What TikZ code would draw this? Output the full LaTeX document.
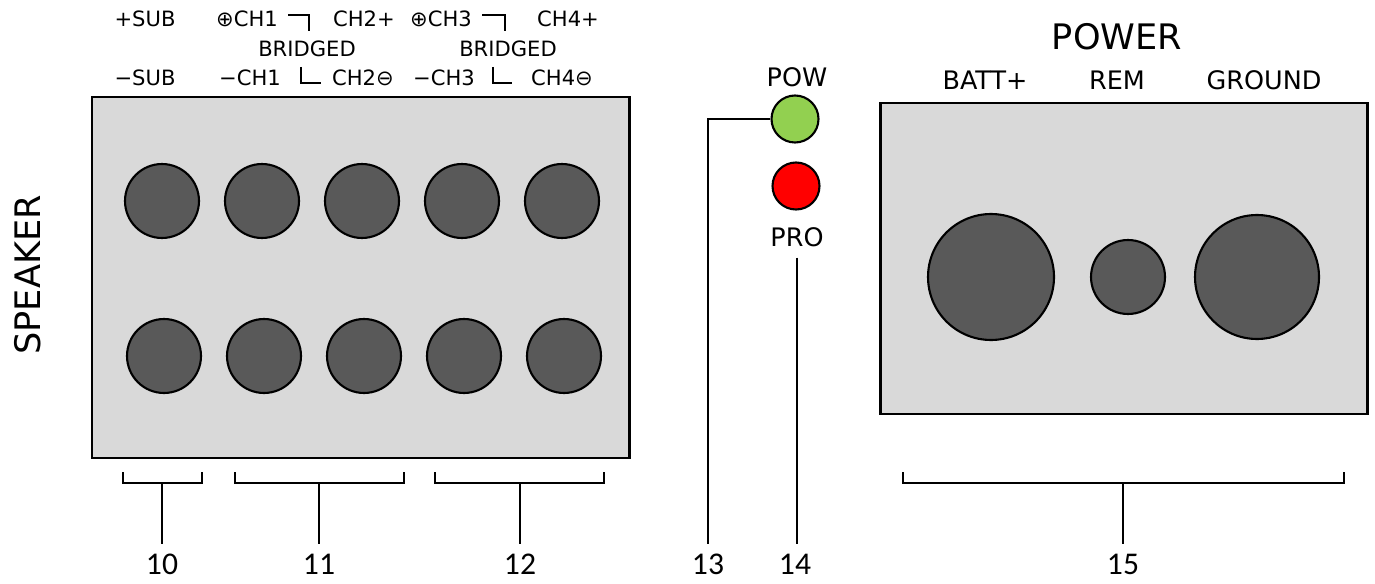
\documentclass[tikz,border=0pt]{standalone}
\usepackage{fontspec}
\setmainfont{DejaVu Sans}
\newfontfamily\numfont{Carlito}
\usetikzlibrary{positioning}
\definecolor{panelgray}{HTML}{D9D9D9}
\definecolor{termgray}{HTML}{595959}
\definecolor{powgreen}{HTML}{92D050}
\definecolor{prored}{HTML}{FF0000}

\begin{document}
\begin{tikzpicture}[x=0.02cm,y=-0.02cm,
        panel/.style={draw=black,line width=1.7pt,fill=panelgray},
        term/.style={circle,draw=black,line width=1.2pt,fill=termgray,inner sep=0pt},
        led/.style={circle,draw=black,line width=1.2pt,inner sep=0pt,minimum size=0.94cm},
        lbl/.style={font=\fontsize{12}{12}\selectfont,inner sep=0pt},
        biglbl/.style={font=\fontsize{20}{20}\selectfont,inner sep=0pt},
        midlbl/.style={font=\fontsize{14.5}{15}\selectfont,inner sep=0pt},
        num/.style={font=\numfont\fontsize{18}{18}\selectfont,inner sep=0pt},
        lead/.style={line width=0.9pt}]
    \fill[white] (0,0) rectangle (1375,584);
    \useasboundingbox (0,0) rectangle (1375,584);

    % speaker panel
    \node[biglbl,rotate=90] (speaker) at (28,275) {SPEAKER};
    \draw[panel] (92,97) rectangle (629,458);
    \foreach \i in {0,...,4} {
        \node[term,minimum size=1.48cm] (top\i) at (162+100*\i,201) {};
        \node[term,minimum size=1.48cm] (bot\i) at (164+100*\i,356) {};
    }

    % speaker labels
    \node[lbl] (psub) at (145,19) {+SUB};
    \node[lbl] (pch1) at (247,19) {⊕CH1};
    \node[lbl] (pch2) at (364,19) {CH2+};
    \node[lbl] (pch3) at (441,19) {⊕CH3};
    \node[lbl] (pch4) at (568,19) {CH4+};
    \node[lbl] (brida) at (307,49) {BRIDGED};
    \node[lbl] (bridb) at (508,49) {BRIDGED};
    \node[lbl] (msub) at (145,78) {−SUB};
    \node[lbl] (mch1) at (250,78) {−CH1};
    \node[lbl] (mch2) at (363,78) {CH2⊖};
    \node[lbl] (mch3) at (444,78) {−CH3};
    \node[lbl] (mch4) at (562,78) {CH4⊖};
    \draw[lead] (288,15) -- (309,15) -- (309,31);
    \draw[lead] (301,67) -- (301,83) -- (321,83);
    \draw[lead] (482,15) -- (505,15) -- (505,31);
    \draw[lead] (493,67) -- (493,83) -- (512,83);

    % leds
    \node[led,fill=powgreen] (pow) at (795,119) {};
    \node[led,fill=prored] (pro) at (796,186) {};
    \node[midlbl] (powlbl) at (797,77) {POW};
    \node[midlbl] (prolbl) at (797,237) {PRO};

    % power panel
    \node[biglbl] (power) at (1117,37) {POWER};
    \node[midlbl] (battlbl) at (985,80) {BATT+};
    \node[midlbl] (remlbl) at (1117,80) {REM};
    \node[midlbl] (gndlbl) at (1264,80) {GROUND};
    \draw[panel] (880,103) rectangle (1367,414);
    \node[term,minimum size=2.52cm] (batt) at (991,277) {};
    \node[term,minimum size=1.48cm] (rem) at (1128,277) {};
    \node[term,minimum size=2.48cm] (gnd) at (1257,277) {};

    % callout numbers
    \node[num] (n10) at (162,564) {10};
    \node[num] (n11) at (319,564) {11};
    \node[num] (n12) at (520,564) {12};
    \node[num] (n13) at (708,564) {13};
    \node[num] (n14) at (795,564) {14};
    \node[num] (n15) at (1123,564) {15};

    % brackets and leaders
    \draw[lead] (123,472) |- (202,483) -- (202,472);
    \draw[lead] (235,472) |- (404,483) -- (404,472);
    \draw[lead] (435,472) |- (604,483) -- (604,472);
    \draw[lead] (903,472) |- (1344,483) -- (1344,472);
    \coordinate (b10) at (162,483);
    \coordinate (b11) at (319,483);
    \coordinate (b12) at (520,483);
    \coordinate (b15) at (1123,483);
    \foreach \k in {10,11,12,15}
        \draw[lead,shorten >=5.5pt] (b\k) -- (n\k.north);
    \draw[lead,shorten >=5.5pt] (pow.west) -| (n13.north);
    \draw[lead,shorten <=6pt,shorten >=5.5pt] (prolbl.south) -- (prolbl.south |- n14.north);
\end{tikzpicture}
\end{document}
